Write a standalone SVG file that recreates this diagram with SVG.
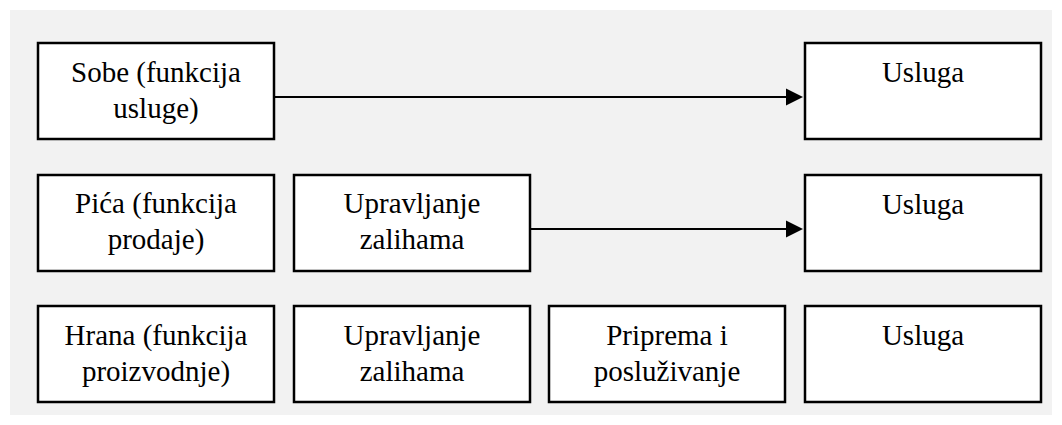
<svg xmlns="http://www.w3.org/2000/svg" width="1062" height="425" viewBox="0 0 1062 425">
<defs>
<style>
.box{fill:#ffffff;stroke:#000000;stroke-width:2.5}
.t{font-family:"Liberation Serif","Times New Roman",serif;font-size:29px;fill:#000000;text-anchor:middle}
.c{stroke:#000000;stroke-width:2;fill:none}
</style>
<marker id="ah" markerWidth="10" markerHeight="10" refX="9" refY="5" orient="auto" markerUnits="userSpaceOnUse" viewBox="0 0 10 10">
<path d="M0,0 L10,5 L0,10 Z" fill="#000000"/>
</marker>
</defs>
<rect x="0" y="0" width="1062" height="425" fill="#ffffff"/>
<rect x="10" y="10" width="1042" height="405" fill="#f2f2f2"/>
<g id="connectors">
<path class="c" d="M274,97 L786,97"/>
<path d="M786,88.5 L803,97 L786,105.5 Z" fill="#000000"/>
<path class="c" d="M530,229 L786,229"/>
<path d="M786,220.5 L803,229 L786,237.5 Z" fill="#000000"/>
</g>
<g id="sobe">
<rect class="box" x="38" y="43" width="236" height="96"/>
<text class="t" x="156" y="82">Sobe (funkcija</text>
<text class="t" x="156" y="118">usluge)</text>
</g>
<g id="usluga1">
<rect class="box" x="805" y="43" width="236" height="96"/>
<text class="t" x="923" y="82">Usluga</text>
</g>
<g id="pica">
<rect class="box" x="38" y="175" width="236" height="96"/>
<text class="t" x="156" y="213">Pića (funkcija</text>
<text class="t" x="156" y="249">prodaje)</text>
</g>
<g id="upravljanje1">
<rect class="box" x="294" y="175" width="236" height="96"/>
<text class="t" x="412" y="213">Upravljanje</text>
<text class="t" x="412" y="249">zalihama</text>
</g>
<g id="usluga2">
<rect class="box" x="805" y="175" width="236" height="96"/>
<text class="t" x="923" y="214">Usluga</text>
</g>
<g id="hrana">
<rect class="box" x="38" y="306" width="236" height="96"/>
<text class="t" x="156" y="345">Hrana (funkcija</text>
<text class="t" x="156" y="381">proizvodnje)</text>
</g>
<g id="upravljanje2">
<rect class="box" x="294" y="306" width="236" height="96"/>
<text class="t" x="412" y="345">Upravljanje</text>
<text class="t" x="412" y="381">zalihama</text>
</g>
<g id="priprema">
<rect class="box" x="549" y="306" width="236" height="96"/>
<text class="t" x="667" y="345">Priprema i</text>
<text class="t" x="667" y="381">posluživanje</text>
</g>
<g id="usluga3">
<rect class="box" x="805" y="306" width="236" height="96"/>
<text class="t" x="923" y="345">Usluga</text>
</g>
</svg>
